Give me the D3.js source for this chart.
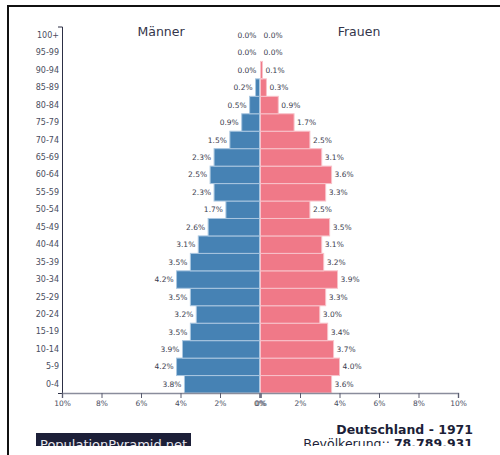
<!DOCTYPE html>
<html>
<head>
<meta charset="utf-8">
<script src="https://cdn.jsdelivr.net/npm/d3@7"></script>
<style>
  body { margin: 0; background: #fff; }
  text { font-family: "DejaVu Sans", sans-serif; }
</style>
</head>
<body>
<div id="pyramid"></div>
<script>
// data, youngest group first
let ageGroups = ["0-4", "5-9", "10-14", "15-19", "20-24", "25-29", "30-34", "35-39",
  "40-44", "45-49", "50-54", "55-59", "60-64", "65-69", "70-74", "75-79",
  "80-84", "85-89", "90-94", "95-99", "100+"];
let maleValues = [3.8, 4.2, 3.9, 3.5, 3.2, 3.5, 4.2, 3.5, 3.1, 2.6, 1.7, 2.3, 2.5,
  2.3, 1.5, 0.9, 0.5, 0.2, 0.0, 0.0, 0.0];
let femaleValues = [3.6, 4.0, 3.7, 3.4, 3.0, 3.3, 3.9, 3.2, 3.1, 3.5, 2.5, 3.3, 3.6,
  3.1, 2.5, 1.7, 0.9, 0.3, 0.1, 0.0, 0.0];
let pctTicks = [0, 2, 4, 6, 8, 10];

let svgWidth = 500;
let svgHeight = 455;

let margin = { top: 26.5, left: 62, center: 260, right: 458, bottom: 393 };

let svg = d3.select("#pyramid")
  .append("svg")
  .attr("width", svgWidth)
  .attr("height", svgHeight);

// frame
svg.append("path")
  .attr("d", `M8,${svgHeight + 5} L8,6 L${svgWidth + 5},6`)
  .attr("fill", "none")
  .attr("stroke", "#111")
  .attr("stroke-width", 2);

svg.append("clipPath")
  .attr("id", "cut")
  .append("rect")
  .attr("x", 0).attr("y", 0)
  .attr("width", svgWidth).attr("height", 446);

let chartGroup = svg.append("g").attr("clip-path", "url(#cut)");

/********************************************/

let yScale = d3.scaleBand()
  .domain(ageGroups.slice().reverse())
  .range([margin.top, margin.bottom])
  .padding(0);

let xLeft = d3.scaleLinear().domain([10, 0]).range([margin.left, margin.center - 0.5]);
let xRight = d3.scaleLinear().domain([0, 10]).range([margin.center + 0.5, margin.right]);

let rows = ageGroups.map((a, i) => ({ age: a, male: maleValues[i], female: femaleValues[i] }));

// male bars
chartGroup.append("g")
  .selectAll("rect")
  .data(rows)
  .enter()
  .append("rect")
  .attr("x", (d) => xLeft(d.male))
  .attr("y", (d) => yScale(d.age))
  .attr("width", (d) => xLeft(0) - xLeft(d.male))
  .attr("height", yScale.bandwidth())
  .attr("fill", "#4682b4")
  .attr("stroke", "#a9c6e0")
  .attr("stroke-width", 1);

// female bars
chartGroup.append("g")
  .selectAll("rect")
  .data(rows)
  .enter()
  .append("rect")
  .attr("x", xRight(0))
  .attr("y", (d) => yScale(d.age))
  .attr("width", (d) => xRight(d.female) - xRight(0))
  .attr("height", yScale.bandwidth())
  .attr("fill", "#f07988")
  .attr("stroke", "#f8c2ca")
  .attr("stroke-width", 1);

/********************************************/

// value labels
chartGroup.append("g")
  .selectAll("text")
  .data(rows)
  .enter()
  .append("text")
  .attr("x", (d) => xLeft(d.male) - 3)
  .attr("y", (d) => yScale(d.age) + yScale.bandwidth() / 2)
  .attr("dy", "0.35em")
  .attr("text-anchor", "end")
  .attr("font-size", "7.5px")
  .attr("fill", "#3a3c4e")
  .text((d) => d.male.toFixed(1) + "%");

chartGroup.append("g")
  .selectAll("text")
  .data(rows)
  .enter()
  .append("text")
  .attr("x", (d) => xRight(d.female) + 3)
  .attr("y", (d) => yScale(d.age) + yScale.bandwidth() / 2)
  .attr("dy", "0.35em")
  .attr("text-anchor", "start")
  .attr("font-size", "7.5px")
  .attr("fill", "#3a3c4e")
  .text((d) => d.female.toFixed(1) + "%");

/********************************************/

// axes
let yAxis = d3.axisLeft(yScale).tickSizeInner(0).tickSizeOuter(4).tickPadding(3);
let yAxisG = chartGroup.append("g")
  .attr("transform", `translate(${margin.left}, 0)`)
  .call(yAxis);
yAxisG.selectAll("text").attr("font-size", "8px").attr("fill", "#4a4d60").attr("font-family", null);
yAxisG.select(".domain").attr("stroke", "#2c2f45");

function styleX(g) {
  g.selectAll("text").attr("font-size", "7.5px").attr("fill", "#4a4d60").attr("font-family", null);
  g.selectAll("line").attr("stroke", "#5a5d70");
  g.select(".domain").attr("stroke", "#8a8d9c").attr("stroke-width", 1.5);
}

let xAxisLeft = d3.axisBottom(xLeft).tickValues(pctTicks).tickSize(5)
  .tickFormat((d) => d + "%");
chartGroup.append("g")
  .attr("transform", `translate(0, ${margin.bottom})`)
  .call(xAxisLeft)
  .call(styleX);

let xAxisRight = d3.axisBottom(xRight).tickValues(pctTicks).tickSize(5)
  .tickFormat((d) => d + "%");
chartGroup.append("g")
  .attr("transform", `translate(0, ${margin.bottom})`)
  .call(xAxisRight)
  .call(styleX);

/********************************************/

// headers
chartGroup.append("text")
  .attr("x", (margin.left + margin.center) / 2)
  .attr("y", 35.5)
  .attr("text-anchor", "middle")
  .attr("font-size", "12.5px")
  .attr("fill", "#33354a")
  .text("Männer");

chartGroup.append("text")
  .attr("x", (margin.center + margin.right) / 2)
  .attr("y", 35.5)
  .attr("text-anchor", "middle")
  .attr("font-size", "12.5px")
  .attr("fill", "#33354a")
  .text("Frauen");

// footer
chartGroup.append("rect")
  .attr("x", 36)
  .attr("y", 433)
  .attr("width", 155)
  .attr("height", 22)
  .attr("fill", "#1c1f38");

chartGroup.append("text")
  .attr("x", 40)
  .attr("y", 448.5)
  .attr("font-size", "13px")
  .attr("fill", "#e8e8ee")
  .text("PopulationPyramid.net");

chartGroup.append("text")
  .attr("x", 473)
  .attr("y", 433.5)
  .attr("text-anchor", "end")
  .attr("font-size", "12.5px")
  .attr("font-weight", "bold")
  .attr("fill", "#1c1f38")
  .text("Deutschland - 1971");

let popText = chartGroup.append("text")
  .attr("x", 473)
  .attr("y", 447.5)
  .attr("text-anchor", "end")
  .attr("font-size", "12.5px")
  .attr("fill", "#1c1f38");
popText.append("tspan").text("Bevölkerung:: ");
popText.append("tspan").attr("font-weight", "bold").text("78.789.931");
</script>
</body>
</html>
